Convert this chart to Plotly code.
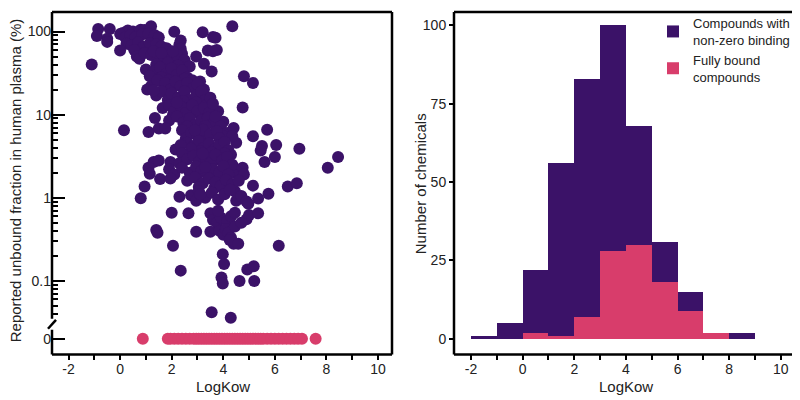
import plotly.graph_objects as go

# ---------------- data ----------------
# Left panel: compounds with non-zero unbound fraction (LogKow, fu %)
nz_logkow = [
    -0.85, -0.4, 0.1, 0.3, 0.5, 0.7, 0.8, 0.95, 1.05, 1.2, 2.1, 3.2, 4.35,
    -0.9, -0.5, 0.0, 0.2, 0.4, 0.6, 0.85, 1.1, 1.35, 1.5, 2.35, 3.6, 3.7,
    -0.5, 0.25, 0.45, 0.7, 0.9, 1.15, 1.4, 1.6, 1.8, 2.3, 2.35, 0.0, 0.55, 3.4, 3.6, 3.75,
    -1.1, 0.65, 0.75, 0.95, 1.2, 1.45, 1.7, 1.9, 2.1, 2.4, 2.95, 3.25, 1.3, 2.2,
    1.6, 1.85, 2.05, 2.5, 2.7, 1.4, 2.25, 1.65,
    1.0, 1.3, 1.55, 1.8, 2.0, 2.2, 2.4, 3.55, 1.15, 2.6, 4.8,
    1.6, 1.9, 2.5, 2.8, 3.1, 2.05, 2.45, 3.25, 1.7,
    1.2, 1.45, 1.75, 1.95, 2.15, 2.35, 2.6, 2.85, 5.15, 1.05, 3.0,
    1.4, 1.6, 1.85, 2.0, 2.25, 2.5, 2.7, 2.95, 3.15, 3.3, 1.3,
    2.45, 2.7, 2.95, 3.35, 3.5, 2.05, 3.1, 3.8,
    1.65, 1.9, 2.1, 2.35, 2.55, 2.8, 3.0, 3.25, 3.45, 3.6, 4.75, 2.2,
    1.35, 1.9, 2.2, 2.45, 2.7, 2.9, 3.15, 3.4, 3.6, 4.0, 2.6, 3.7,
    2.4, 2.55, 3.3, 3.9, 4.15, 3.35, 4.0, 4.5,
    0.15, 1.1, 1.5, 1.75, 2.75, 3.0, 3.2, 3.5, 3.75, 4.4, 4.35, 5.15, 5.7, 3.85, 2.9,
    2.6, 2.85, 3.05, 3.25, 3.45, 3.65, 3.85, 4.05, 4.2, 4.3, 5.5, 5.45, 6.05, 6.95, 3.1, 2.75, 2.15, 2.35, 2.4,
    3.55, 3.75, 4.05, 3.45, 3.0, 3.55, 3.85, 4.4, 4.45, 3.65, 4.0,
    1.3, 1.5, 1.95, 2.3, 2.6, 2.85, 3.05, 3.3, 3.5, 3.7, 3.95, 4.15, 4.35, 5.6, 6.0, 8.45, 3.2,
    1.1, 1.15, 1.9, 2.1, 2.4, 2.7, 2.95, 3.15, 3.4, 3.6, 3.85, 4.0, 4.2, 4.75, 4.8, 8.05, 3.3,
    0.95, 1.55, 1.95, 2.6, 2.9, 3.2, 3.45, 3.7, 3.9, 4.1, 4.35, 4.6, 5.15, 6.5, 6.85, 3.05,
    0.8, 2.3, 2.75, 3.05, 3.3, 3.55, 3.8, 4.05, 4.25, 4.5, 4.7, 4.9, 5.35, 5.75, 2.95, 3.1,
    2.0, 2.65, 3.5, 3.6, 3.75, 3.9, 4.15, 4.3, 4.45, 4.9, 5.0, 5.35, 3.8, 4.97,
    1.4, 1.45, 2.95, 3.5, 3.85, 4.0, 4.1, 4.2, 4.3, 4.45, 4.7,
    2.05, 4.4, 6.15, 3.98, 4.25, 4.58,
    4.03, 2.35, 4.93, 5.18, 3.93, 3.98, 4.63, 5.2, 3.55, 4.29,
]
nz_fu = [
    107, 107, 96, 103, 100, 98, 105, 104, 95, 116, 99, 98, 116,
    88, 82, 93, 85, 90, 86, 92, 94, 90, 85, 78, 86, 84,
    75, 71, 68, 74, 65, 72, 70, 66, 63, 70, 62, 59, 60, 59, 58, 60,
    40, 50, 47, 55, 52, 48, 45, 50, 43, 54, 50, 41, 58, 52,
    55, 42, 58, 45, 38, 40, 39, 30,
    35, 33, 37, 31, 36, 30, 34, 33, 29, 28, 29,
    28, 26, 27, 26, 25, 22, 21, 20, 21,
    22, 26, 24, 20, 25, 22, 24, 21, 24, 20, 23,
    17, 19, 15, 18, 16, 19, 15, 17, 19, 15, 19.5,
    14.5, 12, 14, 13, 16, 10, 10, 11,
    12, 13, 11, 12.5, 10.5, 13, 11, 12, 10.5, 13.5, 12.2, 14,
    9.1, 8.5, 9.5, 8, 9, 7.5, 8.5, 9.2, 7.8, 8.2, 7.2, 9.5,
    6.5, 5.2, 7.3, 7.2, 6.0, 5.0, 5.5, 4.6,
    6.5, 6.2, 6.8, 6.8, 6, 5.5, 6.6, 5.8, 6.3, 6.9, 5.5, 5.5, 6.6, 5.2, 6.5,
    4.6, 4.2, 4.8, 4.0, 4.5, 3.8, 4.3, 4.7, 3.7, 3.3, 4.2, 3.7, 4.3, 3.9, 3.6, 3.9, 3.8, 4.3, 3.4,
    3.5, 2.9, 3.4, 2.3, 1.9, 1.8, 1.7, 2.0, 1.2, 1.3, 1.3,
    2.7, 2.8, 2.7, 2.6, 2.9, 3.2, 2.7, 3.1, 2.6, 3.3, 2.8, 3.1, 2.5, 2.7, 3.1, 3.1, 3.4,
    2.3, 1.95, 2.2, 1.9, 2.3, 2.0, 2.4, 2.1, 1.9, 2.2, 2.0, 2.4, 1.9, 2.3, 1.9, 2.3, 2.35,
    1.37, 1.68, 1.7, 1.6, 1.75, 1.5, 1.7, 1.55, 1.4, 1.65, 1.45, 1.6, 1.4, 1.37, 1.5, 1.35,
    0.99, 1.03, 1.07, 1.2, 1.0, 1.15, 0.95, 1.1, 1.25, 0.92, 1.05, 0.9, 0.98, 1.12, 0.92, 1.1,
    0.66, 0.65, 0.65, 0.54, 0.5, 0.58, 0.52, 0.6, 0.66, 0.55, 0.62, 0.65, 0.7, 0.85,
    0.41, 0.38, 0.39, 0.39, 0.4, 0.36, 0.42, 0.38, 0.33, 0.45, 0.5,
    0.265, 0.28, 0.265, 0.21, 0.31, 0.28,
    0.16, 0.133, 0.137, 0.15, 0.11, 0.093, 0.1, 0.1, 0.042, 0.036,
]
# Fully bound compounds (fu = 0)
fb_logkow = [
    0.88, 1.85, 1.95, 2.1, 2.25, 2.4, 2.55, 2.7, 2.85, 2.95, 3.05, 3.15, 3.25,
    3.35, 3.45, 3.55, 3.65, 3.75, 3.85, 3.95, 4.05, 4.15, 4.25, 4.35, 4.45,
    4.55, 4.65, 4.75, 4.85, 4.95, 5.05, 5.15, 5.25, 5.35, 5.45, 5.55, 5.7,
    5.85, 6.0, 6.15, 6.3, 6.45, 6.6, 6.75, 6.9, 7.05, 7.58,
]
fb_fu = [0] * len(fb_logkow)

# Right panel: histogram counts per unit LogKow bin
bin_left = [-2, -1, 0, 1, 2, 3, 4, 5, 6, 7, 8]
hist_nonzero = [1, 5, 22, 56, 83, 100, 68, 31, 15, 2, 2]
hist_fully_bound = [0, 0, 2, 1, 7, 28, 30, 18, 9, 2, 0]

x_ticks = [-2, 0, 2, 4, 6, 8, 10]
x_ticktext = ["-2", "0", "2", "4", "6", "8", "10"]

PURPLE = "#3b1268"
PINK = "#d83d6b"
FONT = "Liberation Sans, Arial, sans-serif"
TXT = "#222222"

# page has an 8px body margin; figure is sized to fit the 800x400 window
OFF = 8
W, H = 800 - OFF, 400 - OFF
def px(x):
    return (x - OFF) / W
def py(y):
    return 1 - (y - OFF) / H
def dom(a, b):
    return [max(0.0, min(1.0, a)), max(0.0, min(1.0, b))]

fig = go.Figure()

fig.add_trace(go.Scatter(x=nz_logkow, y=nz_fu, mode="markers", xaxis="x", yaxis="y",
                         marker=dict(size=12, color=PURPLE, line=dict(width=0)),
                         cliponaxis=False, showlegend=False))
fig.add_trace(go.Scatter(x=fb_logkow, y=fb_fu, mode="markers", xaxis="x", yaxis="y2",
                         marker=dict(size=12, color=PINK, line=dict(width=0)),
                         cliponaxis=False, showlegend=False))

fig.add_trace(go.Bar(x=bin_left, y=hist_nonzero, width=1, offset=0, xaxis="x2", yaxis="y3",
                     marker=dict(color=PURPLE, line=dict(width=0)),
                     name="Compounds with<br>non-zero binding"))
fig.add_trace(go.Bar(x=bin_left, y=hist_fully_bound, width=1, offset=0, xaxis="x2", yaxis="y3",
                     marker=dict(color=PINK, line=dict(width=0)),
                     name="Fully bound<br>compounds"))

tickfont = dict(family=FONT, size=14, color=TXT)
minor_vals = ([k / 100 for k in range(4, 10)] + [k / 10 for k in range(2, 10)]
              + [float(k) for k in range(2, 10)] + [float(k * 10) for k in range(2, 10)])

xcommon = dict(tickvals=x_ticks, ticktext=x_ticktext, ticks="outside", ticklen=5, tickwidth=1.5,
               tickcolor="black", showgrid=False, zeroline=False, showline=False,
               ticklabelstandoff=-3,
               minor=dict(tickvals=[-1, 1, 3, 5, 7, 9], ticks="outside", ticklen=5,
                          tickwidth=1.5, tickcolor="black", showgrid=False),
               tickfont=tickfont)

fig.update_layout(
    width=W, height=H, margin=dict(l=0, r=0, t=0, b=0),
    paper_bgcolor="white", plot_bgcolor="white",
    barmode="overlay", bargap=0,
    font=dict(family=FONT, size=13, color=TXT),
    xaxis=dict(domain=dom(px(52), px(392)), range=[-2.64, 10.54], anchor="y2", **xcommon),
    yaxis=dict(domain=dom(py(318), py(8)), type="log", range=[-1.456, 2.2345], anchor="x",
               tickvals=[0.1, 1, 10, 100], ticktext=["0.1", "1", "10", "100"],
               ticks="inside", ticklen=13, tickwidth=2, tickcolor="black",
               minor=dict(tickvals=minor_vals, ticks="inside", ticklen=6, tickwidth=1.5,
                          tickcolor="black", showgrid=False),
               showgrid=False, zeroline=False, showline=False, tickfont=tickfont),
    yaxis2=dict(domain=dom(py(354), py(330)), range=[-16, 8], anchor="x",
                tickvals=[0], ticktext=["0"], ticks="inside", ticklen=13, tickwidth=2,
                tickcolor="black", showgrid=False, zeroline=False, showline=False,
                tickfont=tickfont),
    xaxis2=dict(domain=dom(px(454), px(795)), range=[-2.66, 10.55], anchor="y3", **xcommon),
    yaxis3=dict(domain=dom(py(354), py(8)), range=[-5, 104.3], anchor="x2",
                tickvals=[0, 25, 50, 75, 100], ticks="outside", ticklen=4, tickwidth=1.5,
                tickcolor="black", showgrid=False, zeroline=False, showline=False,
                tickfont=tickfont),
    legend=dict(x=px(653), y=py(4), xanchor="left", yanchor="top",
                bgcolor="rgba(0,0,0,0)", font=dict(family=FONT, size=13, color=TXT),
                tracegroupgap=2, traceorder="normal"),
)

lw = 2.5
frame = [
    (52, 8, 392, 8), (392, 8, 392, 354), (52, 354, 392, 354),
    (52, 8, 52, 318), (52, 329, 52, 354), (48, 328, 56, 319),
    (454, 8, 795, 8), (795, 8, 795, 354), (454, 354, 795, 354), (454, 8, 454, 354),
]
for x0, y0, x1, y1 in frame:
    fig.add_shape(type="line", xref="paper", yref="paper",
                  x0=px(x0), y0=py(y0), x1=px(x1), y1=py(y1),
                  line=dict(color="black", width=lw))

title_font = dict(family=FONT, size=15, color=TXT)
def title(text, x, y, angle=0):
    fig.add_annotation(text=text, xref="paper", yref="paper", x=px(x), y=py(y),
                       xanchor="center", yanchor="middle", textangle=angle,
                       showarrow=False, font=title_font)

title("Reported unbound fraction in human plasma (%)", 15, 178, -90)
title("Number of chemicals", 420, 182, -90)
title("LogKow", 223, 386)
title("LogKow", 626, 386)

fig.write_html("out.html")
